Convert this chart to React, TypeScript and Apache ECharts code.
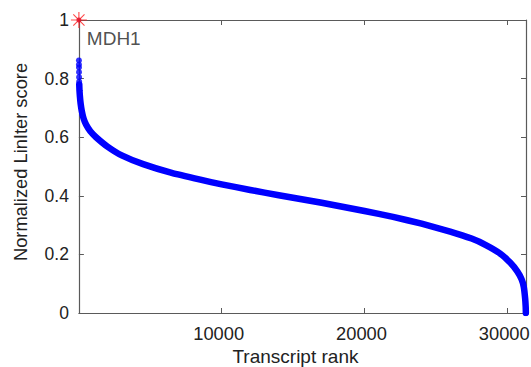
import React, { useEffect, useRef } from "react";
import * as echarts from "echarts";

const topDots: [number, number][] = [
  [1, 0.862], [3, 0.848], [5, 0.838], [8, 0.822], [12, 0.805], [18, 0.79],
];
const curve: [number, number][] = [
  [25, 0.78], [40, 0.76], [70, 0.74], [120, 0.715], [200, 0.69], [320, 0.665],
  [500, 0.643], [800, 0.62], [1200, 0.6], [2000, 0.568], [3000, 0.538],
  [4500, 0.508], [6500, 0.478], [8500, 0.455], [10000, 0.439], [12000, 0.42],
  [14000, 0.402], [16000, 0.385], [18000, 0.367], [20000, 0.348], [22000, 0.328],
  [24000, 0.305], [26000, 0.278], [27500, 0.254], [28500, 0.232], [29500, 0.203],
  [30200, 0.172], [30700, 0.142], [31000, 0.115], [31150, 0.09], [31250, 0.05],
  [31290, 0.02], [31300, 0.0],
];
const lastDot: [number, number][] = [[31300, 0]];
const topHit: [number, number][] = [[0, 1]];
const topLabel = "MDH1";
const xTicks = [10000, 20000, 30000];
const xMax = 31310;

const star = "path://M10 0 L10 20 M0 10 L20 10 M3 3 L17 17 M17 3 L3 17";

export default function App() {
  const ref = useRef<HTMLDivElement>(null);
  useEffect(() => {
    const chart = echarts.init(ref.current!, null, { renderer: "svg" });
    const axisLine = { lineStyle: { color: "#5a5a5a", width: 1.2 } };
    const tick = { show: true, inside: true, length: 5, lineStyle: { color: "#5a5a5a" } };
    const font = "Liberation Sans";
    chart.setOption({
      animation: false,
      grid: { left: 78.9, right: 5, top: 20, bottom: 54, containLabel: false, outerBoundsMode: "none" },
      xAxis: [
        {
          type: "value", min: 0, max: xMax, interval: 10000,
          axisLine: { show: true, onZero: false, ...axisLine },
          axisTick: { ...tick, customValues: xTicks },
          splitLine: { show: false },
          axisLabel: {
            color: "#222", fontSize: 18.3, fontFamily: font, margin: 11,
            customValues: xTicks, padding: [0, 6, 0, 0],
            formatter: (v: number) => String(v),
          },
          name: "Transcript rank", nameLocation: "middle", nameGap: 33,
          nameTextStyle: { color: "#222", fontSize: 19, fontFamily: font, padding: [0, 14, 0, 0] },
        },
        {
          type: "value", min: 0, max: xMax, interval: 10000, position: "top",
          axisLine: { show: true, onZero: false, ...axisLine },
          axisTick: { ...tick, customValues: xTicks },
          axisLabel: { show: false }, splitLine: { show: false },
        },
      ],
      yAxis: [
        {
          type: "value", min: 0, max: 1, interval: 0.2,
          axisLine: { show: true, onZero: false, ...axisLine },
          axisTick: tick, splitLine: { show: false },
          axisLabel: {
            color: "#222", fontSize: 17.5, fontFamily: font, margin: 10,
            formatter: (v: number) => String(Math.round(v * 10) / 10),
          },
          name: "Normalized LinIter score", nameLocation: "middle", nameGap: 49,
          nameTextStyle: { color: "#222", fontSize: 18.3, fontFamily: font, padding: [0, 0, 0, 9] },
        },
        {
          type: "value", min: 0, max: 1, interval: 0.2, position: "right",
          axisLine: { show: true, onZero: false, ...axisLine },
          axisTick: tick, axisLabel: { show: false }, splitLine: { show: false },
        },
      ],
      series: [
        {
          type: "line", data: curve, showSymbol: false, symbol: "none", smooth: 0.15,
          lineStyle: { color: "#0000ff", width: 6.5, cap: "round", join: "round" },
          z: 3,
        },
        {
          type: "scatter", data: topDots, symbolSize: 6,
          itemStyle: { color: "#0000ff" }, z: 3,
        },
        {
          type: "scatter", data: lastDot, symbolSize: 6,
          itemStyle: { color: "#0000ff" }, z: 3,
        },
        {
          type: "scatter", data: topHit, symbol: star, symbolSize: 16,
          itemStyle: { color: "#ff1a1a", borderColor: "#ff1a1a", borderWidth: 1.1 },
          label: {
            show: true, formatter: topLabel, position: [16.5, 18],
            color: "#222", fontSize: 19, fontFamily: font,
          },
          z: 5,
        },
        {
          type: "scatter", data: topHit, symbolSize: 5,
          itemStyle: { color: "#e0102a" }, z: 6,
        },
      ],
    });
    return () => chart.dispose();
  }, []);
  return <div ref={ref} style={{ width: 531, height: 367, position: "absolute", left: 0, top: 0 }} />;
}
